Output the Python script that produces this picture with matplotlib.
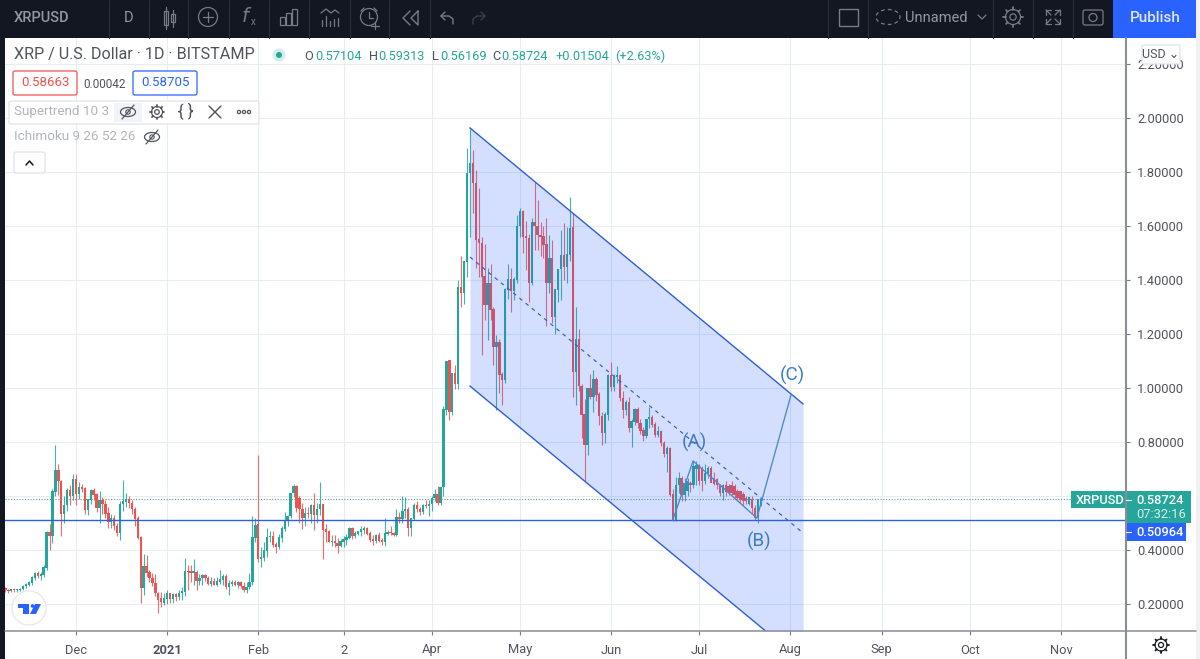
import numpy as np
import matplotlib
matplotlib.use("Agg")
import matplotlib.pyplot as plt
from matplotlib.patches import Rectangle, Circle, Ellipse, FancyBboxPatch, Polygon

plt.rcParams['font.family'] = ['Roboto', 'DejaVu Sans']

# daily candles, first one is 24 days before 1 Dec 2020 (10 values per row)
opens = [
    .258, .250, .248, .252, .250, .253, .255, .265, .272, .278,
    .298, .312, .305, .308, .335, .465, .450, .615, .695, .655,
    .532, .565, .620, .600, .662, .607, .632, .627, .548, .585,
    .620, .604, .555, .583, .570, .535, .505, .515, .487, .462,
    .570, .578, .585, .573, .550, .515, .445, .258, .340, .315,
    .295, .277, .240, .220, .205, .220, .237, .220, .235, .225,
    .240, .245, .322, .320, .315, .315, .285, .295, .305, .296,
    .275, .285, .272, .283, .290, .300, .262, .275, .280, .270,
    .278, .265, .250, .262, .280, .445, .495, .368, .372, .397,
    .447, .450, .420, .410, .445, .478, .510, .525, .610, .635,
    .590, .550, .520, .535, .532, .565, .530, .550, .568, .475,
    .468, .430, .432, .425, .415, .430, .437, .445, .478, .450,
    .460, .467, .475, .480, .460, .437, .432, .455, .435, .430,
    .460, .465, .462, .457, .520, .515, .543, .549, .480, .515,
    .565, .550, .540, .565, .563, .570, .592, .605, .575, .632,
    .920, 1.10, .912, 1.054, 1.015, 1.371, 1.35, 1.468, 1.795, 1.832,
    1.758, 1.548, 1.535, 1.412, 1.307, 1.388, 1.29, 1.153, 1.168, 1.048,
    1.03, 1.363, 1.40, 1.36, 1.40, 1.598, 1.653, 1.56, 1.555, 1.388,
    1.612, 1.598, 1.566, 1.56, 1.53, 1.388, 1.48, 1.264, 1.363, 1.44,
    1.49, 1.447, 1.493, 1.595, 1.06, 1.18, 1.007, .900, .790, .999,
    .968, 1.03, .974, .896, .832, .900, 1.045, 1.005, 1.04, 1.045,
    .962, .918, .945, .850, .875, .921, .870, .842, .822, .884,
    .891, .863, .826, .840, .795, .756, .776, .604, .510, .640,
    .665, .604, .620, .645, .640, .700, .712, .700, .655, .684,
    .703, .665, .660, .640, .612, .640, .635, .640, .635, .616,
    .616, .604, .592, .572, .585, .555, .517, .57104,
]
highs = [
    .262, .254, .256, .258, .256, .260, .270, .276, .285, .305,
    .318, .322, .320, .345, .470, .495, .625, .789, .720, .660,
    .600, .630, .640, .680, .680, .650, .645, .635, .590, .625,
    .630, .612, .620, .595, .585, .560, .535, .530, .500, .580,
    .660, .610, .600, .585, .560, .525, .450, .385, .380, .325,
    .315, .310, .245, .245, .240, .250, .240, .240, .240, .250,
    .262, .370, .345, .345, .365, .325, .310, .310, .310, .305,
    .300, .295, .300, .325, .310, .310, .290, .290, .290, .285,
    .285, .280, .280, .315, .525, .520, .752, .410, .430, .480,
    .470, .470, .430, .460, .490, .540, .530, .610, .645, .640,
    .600, .575, .560, .560, .570, .610, .575, .650, .570, .495,
    .475, .455, .455, .445, .440, .450, .460, .485, .485, .470,
    .470, .490, .487, .485, .470, .455, .460, .465, .445, .520,
    .475, .490, .468, .550, .540, .600, .595, .560, .520, .575,
    .580, .560, .570, .585, .585, .600, .625, .638, .635, .935,
    1.097, 1.105, 1.054, 1.085, 1.40, 1.49, 1.47, 1.888, 1.96, 1.88,
    1.807, 1.74, 1.56, 1.533, 1.443, 1.46, 1.30, 1.196, 1.18, 1.06,
    1.37, 1.46, 1.443, 1.41, 1.64, 1.665, 1.66, 1.62, 1.57, 1.63,
    1.764, 1.696, 1.616, 1.60, 1.63, 1.566, 1.548, 1.36, 1.44, 1.585,
    1.61, 1.595, 1.706, 1.647, 1.30, 1.22, 1.015, .960, 1.00, 1.05,
    1.067, 1.04, .985, .910, .910, 1.05, 1.098, 1.05, 1.08, 1.05,
    .990, .955, .968, .885, .925, .930, .885, .855, .885, .930,
    .900, .873, .860, .845, .805, .785, .780, .625, .672, .690,
    .675, .665, .665, .655, .730, .730, .720, .710, .720, .710,
    .710, .690, .665, .645, .645, .655, .645, .655, .645, .625,
    .620, .615, .600, .598, .600, .565, .570, .59313,
]
lows = [
    .245, .242, .244, .246, .245, .248, .250, .260, .268, .270,
    .290, .295, .290, .300, .325, .400, .425, .600, .605, .452,
    .500, .545, .565, .585, .565, .590, .615, .535, .530, .570,
    .585, .540, .500, .535, .520, .480, .480, .475, .450, .437,
    .545, .560, .555, .535, .490, .440, .205, .235, .300, .280,
    .265, .230, .165, .190, .195, .200, .205, .205, .210, .215,
    .215, .230, .250, .280, .270, .250, .270, .270, .285, .270,
    .265, .270, .265, .275, .270, .255, .235, .265, .265, .260,
    .260, .245, .240, .255, .270, .430, .355, .338, .360, .375,
    .430, .410, .390, .405, .430, .470, .490, .520, .595, .540,
    .500, .478, .490, .520, .500, .475, .500, .530, .365, .430,
    .430, .415, .410, .390, .410, .410, .420, .440, .440, .445,
    .455, .450, .460, .455, .430, .420, .425, .430, .420, .415,
    .455, .455, .450, .450, .500, .500, .520, .450, .450, .510,
    .540, .530, .535, .555, .525, .545, .580, .565, .565, .600,
    .900, .880, .900, .995, .995, 1.30, 1.31, 1.41, 1.56, 1.647,
    1.443, 1.41, 1.122, 1.252, 1.178, 1.25, 1.085, .920, .980, .936,
    1.017, 1.33, 1.283, 1.326, 1.39, 1.56, 1.50, 1.437, 1.32, 1.38,
    1.51, 1.51, 1.49, 1.48, 1.23, 1.353, 1.24, 1.20, 1.32, 1.325,
    1.40, 1.39, 1.47, .968, .937, .990, .814, .654, .752, .960,
    .912, .950, .862, .789, .795, .880, .990, .990, 1.02, .950,
    .890, .900, .838, .783, .862, .850, .830, .805, .815, .850,
    .855, .820, .820, .785, .745, .690, .600, .508, .506, .610,
    .580, .580, .600, .615, .630, .640, .640, .620, .645, .665,
    .650, .640, .625, .600, .585, .600, .605, .605, .590, .580,
    .575, .565, .570, .565, .535, .510, .500, .56169,
]
closes = [
    .250, .248, .252, .250, .253, .255, .265, .272, .278, .298,
    .312, .305, .308, .335, .465, .450, .615, .695, .655, .532,
    .565, .620, .600, .662, .607, .632, .627, .548, .585, .620,
    .604, .555, .583, .570, .535, .505, .515, .487, .462, .570,
    .578, .585, .573, .550, .515, .445, .258, .340, .315, .295,
    .277, .240, .215, .208, .220, .237, .220, .235, .225, .240,
    .245, .322, .320, .315, .320, .285, .295, .305, .296, .275,
    .285, .272, .283, .290, .300, .262, .275, .280, .270, .278,
    .265, .250, .262, .280, .445, .490, .368, .372, .397, .447,
    .450, .420, .410, .445, .478, .510, .525, .610, .635, .555,
    .550, .520, .535, .532, .565, .530, .550, .568, .475, .468,
    .430, .432, .425, .415, .430, .437, .445, .478, .450, .460,
    .467, .475, .480, .460, .437, .432, .455, .435, .430, .460,
    .465, .462, .457, .520, .515, .543, .549, .480, .515, .565,
    .550, .540, .565, .563, .570, .592, .605, .575, .632, .920,
    1.097, .912, 1.054, 1.015, 1.371, 1.35, 1.468, 1.795, 1.832, 1.758,
    1.548, 1.535, 1.412, 1.307, 1.388, 1.29, 1.153, 1.168, 1.048, 1.03,
    1.363, 1.40, 1.36, 1.40, 1.598, 1.653, 1.56, 1.555, 1.388, 1.612,
    1.598, 1.566, 1.56, 1.53, 1.388, 1.48, 1.264, 1.363, 1.44, 1.49,
    1.447, 1.493, 1.59, 1.06, 1.18, 1.007, .900, .790, .999, .968,
    1.03, .974, .896, .832, .900, 1.045, 1.005, 1.04, 1.045, .962,
    .918, .945, .850, .875, .921, .870, .842, .822, .884, .891,
    .863, .826, .840, .795, .756, .776, .604, .510, .640, .665,
    .604, .647, .655, .640, .710, .712, .654, .655, .684, .703,
    .648, .645, .640, .612, .640, .616, .616, .612, .604, .592,
    .585, .580, .580, .594, .555, .517, .585, .58724,
]
first_day = -24  # days from 1 Dec 2020

tick_days = [0, 31, 62, 91, 121, 151, 182, 212, 243, 274, 304, 335]
tick_names = ["Dec", "2021", "Feb", "2", "Apr", "May", "Jun", "Jul", "Aug", "Sep", "Oct", "Nov"]
price_ticks = [0.2, 0.4, 0.6, 0.8, 1.0, 1.2, 1.4, 1.6, 1.8, 2.0, 2.2]

channel_x = [134.0, 247.3]
channel_top = [1.963, 0.941]
channel_mid = [1.485, 0.463]
channel_low = [1.007, -0.015]
wave_x = [203.0, 209.9, 231.6, 243.2]
wave_y = [0.511, 0.730, 0.518, 0.974]
last_price = 0.58724
hline_price = 0.50964

GREEN = "#26a69a"
RED = "#ef5350"
BLUE = "#2962ff"
DARK = "#131722"
TXT = "#50535e"
GRID = "#e8edf3"
BAR_TXT = "#787b86"

W, H = 1200, 659
fig = plt.figure(figsize=(W / 100, H / 100), dpi=100, facecolor="white")
ax = fig.add_axes([5 / W, (H - 631) / H, 1121 / W, 593 / H])
ax.set_xlim(-24.15, 357.15)
ax.set_ylim(0.1, 2.296)

days = np.arange(first_day, first_day + len(closes))
o, h, l, c = map(np.array, (opens, highs, lows, closes))
cols = np.where(c >= o, GREEN, RED)
ax.vlines(days, l, h, colors=cols, linewidth=0.8, zorder=3, alpha=0.85)
ax.bar(days, np.abs(c - o) + 0.002, bottom=np.minimum(o, c), width=0.8, color=cols, linewidth=0, zorder=3)

ax.set_xticks(tick_days)
ax.set_xticklabels(tick_names)
ax.set_yticks(price_ticks)
# the 0.6 label sits behind the price tags in the original
ax.set_yticklabels(["" if p == 0.6 else "%.5f" % p for p in price_ticks])
ax.yaxis.tick_right()
ax.grid(True, color=GRID, linewidth=0.8, zorder=0)
ax.set_axisbelow(True)
ax.tick_params(axis="y", length=3, width=0.8, color=BAR_TXT, labelcolor=TXT, labelsize=9.3, pad=5)
ax.tick_params(axis="x", length=3, width=0.8, color=BAR_TXT, labelcolor=TXT, labelsize=9.3, pad=6)
ax.get_xticklabels()[1].set_fontweight("bold")
for s in ax.spines.values():
    s.set_visible(False)

# drawings
ax.fill_between(channel_x, channel_low, channel_top, color=BLUE, alpha=0.2, linewidth=0, zorder=4)
ax.plot(channel_x, channel_top, color="#2f5fd6", linewidth=1.0, zorder=5)
ax.plot(channel_x, channel_low, color="#2f5fd6", linewidth=1.0, zorder=5)
ax.plot(channel_x, channel_mid, color="#2f5fd6", linewidth=0.85, linestyle=(0, (3.2, 3.6)), zorder=5)
ax.plot(wave_x, wave_y, color="#4f86c6", linewidth=0.95, zorder=6)
ax.axhline(hline_price, color="#2f62d8", linewidth=1.0, zorder=5)
ax.axhline(last_price, color="#5d9a95", linewidth=0.8, linestyle=(0, (1, 1.5)), zorder=2)
for txt, d, p in [("(A)", 210.5, 0.798), ("(B)", 232.2, 0.43), ("(C)", 243.5, 1.047)]:
    ax.text(d, p, txt, color="#3d7cc0", fontsize=13.5, ha="center", va="center", zorder=7)

# interface around the chart, in pixels
ui = fig.add_axes([0, 0, 1, 1], facecolor="none", zorder=10)
ui.set_xlim(0, W)
ui.set_ylim(H, 0)
ui.axis("off")


def rect(x0, y0, x1, y1, **kw):
    ui.add_patch(Rectangle((x0, y0), x1 - x0, y1 - y0, linewidth=kw.pop("lw", 0), **kw))


def box(x0, y0, x1, y1, fc, ec, lw=0.9):
    ui.add_patch(FancyBboxPatch((x0 + 2, y0 + 2), x1 - x0 - 4, y1 - y0 - 4, boxstyle="round,pad=2,rounding_size=2",
                                fc=fc, ec=ec, lw=lw))


def line(xs, ys, col=BAR_TXT, lw=0.9, **kw):
    ui.plot(xs, ys, color=col, linewidth=lw, solid_capstyle="round", **kw)


def gear(cx, cy, r, col=BAR_TXT, lw=0.9):
    ui.add_patch(Circle((cx, cy), r, fc="none", ec=col, lw=lw))
    ui.add_patch(Circle((cx, cy), r * 0.42, fc="none", ec=col, lw=lw))
    for a in np.arange(0, 2 * np.pi, np.pi / 4):
        line([cx + r * np.cos(a), cx + r * 1.3 * np.cos(a)], [cy + r * np.sin(a), cy + r * 1.3 * np.sin(a)], col, lw + 0.4)


def eye_off(cx, cy):
    ui.add_patch(Ellipse((cx, cy), 15, 9, fc="none", ec="#50535e", lw=0.9))
    ui.add_patch(Circle((cx, cy), 2.2, fc="none", ec="#50535e", lw=0.8))
    line([cx - 6, cx + 6], [cy + 7, cy - 7], "#50535e", 0.9)


# frame
rect(0, 0, W, 38, fc=DARK)
rect(0, 0, 5, H, fc=DARK)
rect(1196, 0, W, H, fc="#f1f1f3")
line([1126, 1126], [38, H], "#8a8d96", 1.5)
line([5, 1196], [631, 631], "#8a8d96", 1.1)

# top bar
for sx in [108.5, 149, 188, 229, 269, 309, 349.5, 389, 430, 828, 868, 993, 1033, 1073]:
    line([sx, sx], [0, 38], "#2a2e39", 0.8)
rect(1113, 0, 1196, 38, fc=BLUE)
ui.text(14, 18, "XRPUSD", color="#9598a1", fontsize=10.5, fontweight="medium", va="center")
ui.text(129, 18, "D", color="#9598a1", fontsize=10.5, va="center", ha="center")
ui.text(1155, 18, "Publish", color="#dfe7ff", fontsize=11, fontweight="medium", va="center", ha="center")
ui.text(905, 18, "Unnamed", color="#9598a1", fontsize=10.5, va="center")
# candles
rect(164, 11, 168, 25, fc="none", ec=BAR_TXT, lw=0.9)
rect(171, 14, 175, 22, fc="none", ec=BAR_TXT, lw=0.9)
line([166, 166], [7, 29])
line([173, 173], [10, 27])
# plus circle
ui.add_patch(Circle((208, 17), 9.5, fc="none", ec=BAR_TXT, lw=0.9))
line([208, 208], [12, 22])
line([203, 213], [17, 17])
ui.text(247, 17, "$f$", color=BAR_TXT, fontsize=14, ha="center", va="center")
ui.text(253, 22, "x", color=BAR_TXT, fontsize=7, ha="center", va="center")
# bars
for bx, by in [(280, 17), (286, 13), (292, 9)]:
    rect(bx, by, bx + 5, 25, fc="none", ec=BAR_TXT, lw=0.9)
# indicator
line([321, 326, 331, 335, 339], [13, 9, 13, 10, 13])
for lx, ly in [(322, 20), (326, 16), (330, 21), (334, 19), (338, 18)]:
    line([lx, lx], [ly, 26])
# alarm
ui.add_patch(Circle((369, 17), 8.5, fc="none", ec=BAR_TXT, lw=0.9))
line([369, 369, 373], [12, 18, 18])
line([361, 364], [11, 8])
line([377, 374], [11, 8])
line([375, 375], [22, 29])
line([371, 379], [25.5, 25.5])
# rewind
line([410, 403, 410], [11, 18, 25], lw=1.0)
line([418, 411, 418, 418], [11, 18, 25, 11], lw=1.0)
# undo, redo
line([445, 441, 445], [12, 16, 20], lw=1.0)
line([441, 449, 453, 453], [16, 16, 19, 24], lw=1.0)
line([481, 485, 481], [12, 16, 20], "#3b3f4a", 1.0)
line([485, 477, 473, 473], [16, 16, 19, 24], "#3b3f4a", 1.0)
# right side
rect(839, 9, 858, 26, fc="none", ec=BAR_TXT, lw=1.0)
ui.add_patch(Ellipse((888, 17), 24, 15, fc="none", ec=BAR_TXT, lw=0.9, linestyle=(0, (3, 2.5))))
line([978, 982, 986], [15, 19, 15])
gear(1013, 17, 7.5)
# fullscreen arrows
for cx_, cy_, sx_, sy_ in [(1046, 10, 1, 1), (1060, 10, -1, 1), (1046, 24, 1, -1), (1060, 24, -1, -1)]:
    line([cx_ + sx_ * 5, cx_, cx_], [cy_, cy_, cy_ + sy_ * 5])
    line([cx_, cx_ + sx_ * 5], [cy_, cy_ + sy_ * 5])
ui.add_patch(FancyBboxPatch((1084, 11), 18, 13, boxstyle="round,pad=1,rounding_size=2", fc="none", ec=BAR_TXT, lw=0.9))
ui.add_patch(Circle((1093, 17.5), 4, fc="none", ec=BAR_TXT, lw=0.9))

# legend block
ui.text(14, 55, "XRP / U.S. Dollar · 1D · BITSTAMP", color=TXT, fontsize=11.6, va="center")
ui.add_patch(Circle((279, 55), 6.5, fc="#d4eeeb", ec="none"))
ui.add_patch(Circle((279, 55), 3, fc=GREEN, ec="none"))
for lab, lx, val, vx in [("O", 304, "0.57104", 315), ("H", 369, "0.59313", 378), ("L", 432, "0.56169", 440), ("C", 492, "0.58724", 501)]:
    ui.text(lx, 56, lab, color=TXT, fontsize=9.2, va="center")
    ui.text(vx, 56, val, color=GREEN, fontsize=9.2, va="center")
ui.text(556, 56, "+0.01504", color=GREEN, fontsize=9.2, va="center")
ui.text(615, 56, "(+2.63%)", color=GREEN, fontsize=9.2, va="center")

box(13, 71, 77, 95, "white", RED)
ui.text(45, 83, "0.58663", color=RED, fontsize=9.5, ha="center", va="center")
ui.text(105, 84, "0.00042", color=TXT, fontsize=8.5, ha="center", va="center")
box(133, 71, 197, 95, "white", BLUE)
ui.text(165, 83, "0.58705", color=BLUE, fontsize=9.5, ha="center", va="center")

box(9, 101, 259, 124, "white", "#e0e3eb")
ui.text(14, 112, "Supertrend 10 3", color="#b2b5be", fontsize=9.7, va="center")
rect(114, 103, 142, 122, fc="#f0f3fa")
eye_off(128, 112)
gear(157, 112, 5.5, "#50535e")
ui.text(186, 111, "{ }", color="#50535e", fontsize=12, ha="center", va="center")
line([209, 221], [106, 118], "#50535e", 1.0)
line([209, 221], [118, 106], "#50535e", 1.0)
for dx in [239, 244, 249]:
    ui.add_patch(Circle((dx, 112), 1.6, fc="none", ec="#50535e", lw=0.9))
ui.text(14, 137, "Ichimoku 9 26 52 26", color="#b2b5be", fontsize=9.7, va="center")
eye_off(152, 137)
box(14, 152, 45, 173, "white", "#e0e3eb")
line([26, 29.5, 33], [165, 161, 165], "#131722", 1.1)

# price scale labels
box(1142, 45, 1180, 64, "white", "#e0e3eb")
ui.text(1161, 55, "USD ⌄", color=TXT, fontsize=9, ha="center", va="center")
rect(1071, 491, 1191, 508, fc=GREEN)
rect(1126, 508, 1191, 523, fc=GREEN)
rect(1126, 523, 1186, 541, fc=BLUE)
line([1126, 1131], [499.5, 499.5], "white", 0.8)
line([1126, 1131], [532, 532], "white", 0.8)
ui.text(1076, 500, "XRPUSD", color="white", fontsize=9.3, fontweight="medium", va="center")
ui.text(1136, 500, "0.58724", color="white", fontsize=9.3, fontweight="medium", va="center")
ui.text(1136, 515, "07:32:16", color="#d8f0ed", fontsize=9.3, va="center")
ui.text(1136, 532, "0.50964", color="white", fontsize=9.3, fontweight="medium", va="center")

# logo and settings
ui.add_patch(Circle((29, 608), 17, fc="white", ec="#e8eaee", lw=1.0))
rect(18, 604, 29, 608, fc=BLUE)
rect(23, 604, 29, 614, fc=BLUE)
ui.add_patch(Circle((32.5, 606), 1.8, fc=BLUE, ec="none"))
ui.add_patch(Polygon([(35, 604), (41, 604), (36, 614), (30, 614)], fc=BLUE, ec="none"))
gear(1161, 645, 6, "#131722", 0.9)

fig.savefig("out.png", dpi=100)
